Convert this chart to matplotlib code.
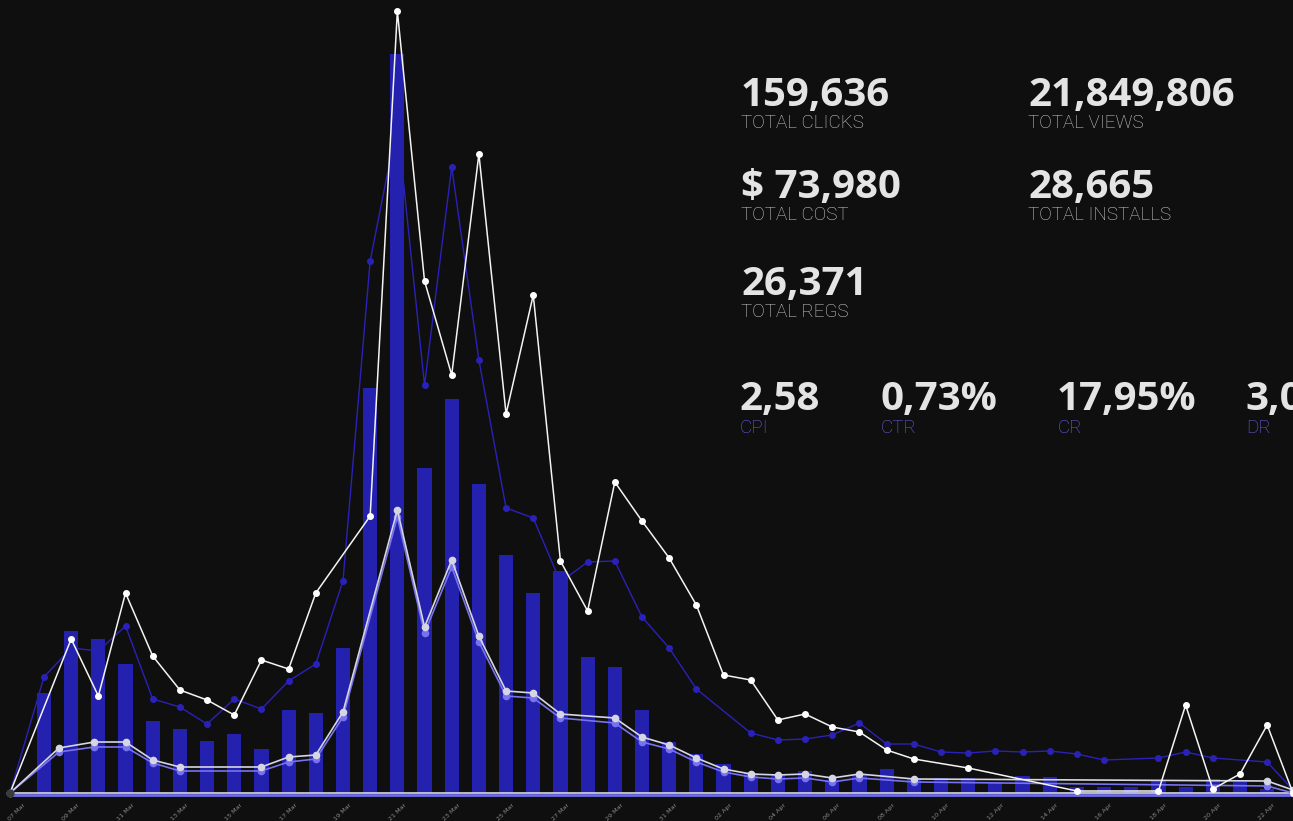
import matplotlib
matplotlib.use("Agg")
import matplotlib.pyplot as plt

# days counted from 07 Mar (day 0)
bar_days = list(range(1, 47))
bar_vals = [100, 162, 154, 129, 72, 64, 52, 59, 44, 83, 80, 145, 405, 739, 325, 394,
            309, 238, 200, 222, 136, 126, 83, 51, 39, 29, 20, 18, 22, 13, 18, 24,
            15, 15, 15, 11, 17, 16, 6, 6, 6, 13, 6, 14, 11, 4]

white_days = [-0.25, 2, 3, 4, 5, 6, 7, 8, 9, 10, 11, 13, 14, 15, 16, 17, 18, 19, 20,
              21, 22, 23, 24, 25, 26, 27, 28, 29, 30, 31, 32, 33, 35, 39, 42, 43, 44,
              45, 46, 46.95]
white_vals = [0, 154, 97, 200, 137, 103, 93, 78, 133, 124, 200, 277, 782, 512, 418,
              639, 379, 498, 232, 182, 311, 272, 235, 188, 118, 113, 73, 79, 66, 61,
              43, 34, 25, 2, 2, 88, 4, 19, 68, 0]

blue_days = [-0.25, 1, 2, 3, 4, 5, 6, 7, 8, 9, 10, 11, 12, 13, 14, 15, 16, 17, 18, 19,
             20, 21, 22, 23, 24, 25, 27, 28, 29, 30, 31, 32, 33, 34, 35, 36, 37, 38,
             39, 40, 42, 43, 44, 46, 46.95]
blue_vals = [0, 116, 145, 142, 167, 94, 86, 69, 94, 84, 112, 129, 212, 532, 670, 408,
             626, 433, 285, 275, 211, 231, 232, 176, 145, 104, 60, 53, 54, 58, 70, 49,
             49, 41, 40, 42, 41, 42, 39, 33, 35, 41, 35, 31, 3]

light_days = [-0.25, 1.55, 2.85, 4, 5, 6, 9, 10, 11, 12, 14, 15, 16, 17, 18, 19, 20,
              22, 23, 24, 25, 26, 27, 28, 29, 30, 31, 33, 46, 46.95]
grey_vals = [0, 45, 51, 51, 33, 26, 26, 36, 38, 81, 283, 166, 233, 157, 102, 100, 79,
             75, 56, 48, 35, 24, 19, 18, 19, 15, 19, 14, 12, 3]
lav_vals = [0, 41, 46, 46, 30, 22, 22, 31, 34, 76, 276, 160, 226, 151, 97, 95, 75,
            70, 51, 44, 31, 21, 16, 14, 15, 11, 15, 11, 7, 0]

base_days = [-0.25, 46.95]
base_top = [0.5, 0.5]
base_low = [-1.5, -1.5]

tick_days = list(range(0, 47, 2))
tick_labels = ["07 Mar", "09 Mar", "11 Mar", "13 Mar", "15 Mar", "17 Mar", "19 Mar",
               "21 Mar", "23 Mar", "25 Mar", "27 Mar", "29 Mar", "31 Mar", "02 Apr",
               "04 Apr", "06 Apr", "08 Apr", "10 Apr", "12 Apr", "14 Apr", "16 Apr",
               "18 Apr", "20 Apr", "22 Apr"]

totals = [("159,636", "TOTAL CLICKS"), ("21,849,806", "TOTAL VIEWS"),
          ("$ 73,980", "TOTAL COST"), ("28,665", "TOTAL INSTALLS"),
          ("26,371", "TOTAL REGS")]
ratios = [("2,58", "CPI"), ("0,73%", "CTR"), ("17,95%", "CR"), ("3,0", "DR")]

BG = "#0f0f0f"
W, H = 1293, 821

fig = plt.figure(figsize=(W / 100, H / 100), dpi=100, facecolor=BG)
ax = fig.add_axes([0, (H - 800) / H, 1, 800 / H])
ax.set_facecolor(BG)
ax.set_xlim(-0.618, 46.95)
ax.set_ylim(-7, 793)

ax.plot(blue_days, blue_vals, color="#2a22b8", lw=1.0, marker="o", ms=4,
        mec="#2a22b8", mfc="#2a22b8", zorder=1)
ax.bar(bar_days, bar_vals, width=0.52, color="#2321ad", zorder=2)
ax.plot(base_days, base_low, color="#6e6ae8", lw=2.0, zorder=3)
ax.plot(base_days, base_top, color="#d8d8e0", lw=1.2, zorder=3)
ax.plot(light_days, lav_vals, color="#7772f0", lw=1.2, marker="o", ms=4.5,
        mfc="#7772f0", mec="#7772f0", zorder=4)
ax.plot(light_days, grey_vals, color="#d6d6e2", lw=1.2, marker="o", ms=4.5,
        mfc="#d6d6e2", mec="#d6d6e2", zorder=5)
ax.plot(white_days, white_vals, color="#f4f4f4", lw=1.1, marker="o", ms=4,
        mfc="#ffffff", mec="#ffffff", zorder=6)
ax.plot(white_days[:1], white_vals[:1], "o", color="#3a3a3a", ms=5, zorder=7)

for s in ax.spines.values():
    s.set_visible(False)
ax.set_yticks([])
ax.set_xticks(tick_days)
ax.set_xticklabels(tick_labels, rotation=45, ha="center", va="top",
                   fontsize=4.6, color="#8a8a8a")
ax.tick_params(axis="x", length=0, pad=1.5)

num_font = dict(family="Open Sans", weight="bold", size=29, color="#e4e4e4")
lab_font = dict(family="Roboto", weight="light", size=13.5, color="#cfcfcf")

pos = [(741, 106), (1028, 106), (741, 198), (1028, 198), (741, 295)]
for (num, lab), (px, py) in zip(totals, pos):
    fig.text(px / W, 1 - py / H, num, va="baseline", ha="left", **num_font)
    fig.text(px / W, 1 - (py + 22) / H, lab, va="baseline", ha="left", **lab_font)

rpos = [739, 880, 1057, 1245]
for (num, lab), px in zip(ratios, rpos):
    fig.text(px / W, 1 - 410 / H, num, va="baseline", ha="left", **num_font)
    fig.text((px + 1) / W, 1 - 433 / H, lab, va="baseline", ha="left",
             family="Roboto", weight="light", size=13.5, color="#6a62ea")

fig.savefig("out.png", dpi=100, facecolor=BG)
